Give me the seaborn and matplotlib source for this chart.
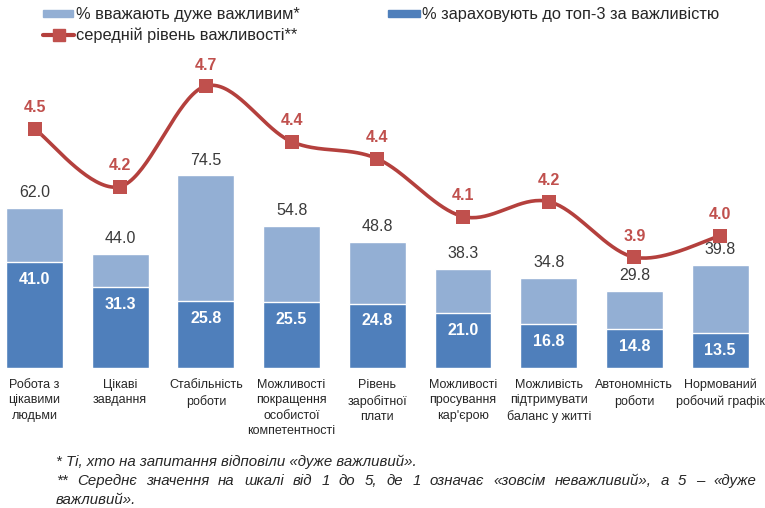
import numpy as np
import pandas as pd
import seaborn as sns
import matplotlib
matplotlib.use("Agg")
import matplotlib.pyplot as plt
from matplotlib.patches import Rectangle
from matplotlib.lines import Line2D
from matplotlib import font_manager

categories = [
    "Робота з\nцікавими\nлюдьми",
    "Цікаві\nзавдання",
    "Стабільність\nроботи",
    "Можливості\nпокращення\nособистої\nкомпетентності",
    "Рівень\nзаробітної\nплати",
    "Можливості\nпросування\nкар'єрою",
    "Можливість\nпідтримувати\nбаланс у житті",
    "Автономність\nроботи",
    "Нормований\nробочий графік",
]
very_important = [62.0, 44.0, 74.5, 54.8, 48.8, 38.3, 34.8, 29.8, 39.8]
top3 = [41.0, 31.3, 25.8, 25.5, 24.8, 21.0, 16.8, 14.8, 13.5]
mean_level = [4.50, 4.23, 4.70, 4.44, 4.36, 4.09, 4.16, 3.90, 4.00]

legend_labels = ["% вважають дуже важливим*",
                 "% зараховують до топ-3 за важливістю",
                 "середній рівень важливості**"]
footnote1 = "* Ті, хто на запитання відповіли «дуже важливий»."
footnote2 = "** Середнє значення на шкалі від 1 до 5, де 1 означає «зовсім неважливий», а 5 – «дуже"
footnote3 = "важливий»."

LIGHT = "#93afd4"
DARK = "#4f7fbb"
RED = "#c0504d"
RED_LINE = "#b4403d"

sns.set_theme(style="white")
names = {f.name for f in font_manager.fontManager.ttflist}
narrow = "Liberation Sans Narrow" if "Liberation Sans Narrow" in names else "Liberation Sans"
plt.rcParams["font.family"] = ["Liberation Sans", "DejaVu Sans"]

W, H = 765, 508
fig = plt.figure(figsize=(W / 100, H / 100), dpi=100)
fig.patch.set_facecolor("white")

# axes occupies pixel rows 60..367.5 and the full width
ax_top, ax_bot = 60, 367.5
ax = fig.add_axes([0, (H - ax_bot) / H, 1, (ax_bot - ax_top) / H])
ax.set_facecolor("none")

df = pd.DataFrame({"cat": categories, "vi": very_important, "t3": top3, "m": mean_level})

sns.barplot(data=df, x="cat", y="vi", color=LIGHT, saturation=1, width=0.665, ax=ax)
sns.barplot(data=df, x="cat", y="t3", color=DARK, saturation=1, width=0.665, ax=ax)

spacing = 85.7
x0 = -34.5 / spacing
ax.set_xlim(x0, x0 + W / spacing)
ax.set_ylim(0, (ax_bot - ax_top) / 2.58)
for s in ax.spines.values():
    s.set_visible(False)
ax.set_xlabel("")
ax.set_ylabel("")
ax.set_yticks([])
ax.tick_params(axis="x", length=0, pad=8)
ax.set_xticks(range(len(categories)))
ax.set_xticklabels(categories, fontsize=9, family=[narrow, "DejaVu Sans"],
                   color="#262626", linespacing=1.4, va="top")

for i, (v, t) in enumerate(zip(very_important, top3)):
    ax.annotate(f"{v:.1f}", (i, v), xytext=(0, 11), textcoords="offset points",
                ha="center", va="center", fontsize=11.5, color="#3a3a3a")
    ax.annotate(f"{t:.1f}", (i, t), xytext=(0, -12.5), textcoords="offset points",
                ha="center", va="center", fontsize=11.5, color="white", fontweight="bold")

# secondary axis for the mean importance line
ax2 = ax.twinx()
px_per_unit = 214.0
y_ref_px, y_ref_val = 86.0, 4.7
ax2.set_ylim(y_ref_val - (ax_bot - y_ref_px) / px_per_unit,
             y_ref_val + (y_ref_px - ax_top) / px_per_unit)
ax2.set_yticks([])
for s in ax2.spines.values():
    s.set_visible(False)

# smooth (Catmull-Rom) curve through the points
xs = np.arange(len(mean_level), dtype=float)
ys = np.array(mean_level)
px = np.concatenate([[xs[0]], xs, [xs[-1]]])
py = np.concatenate([[ys[0]], ys, [ys[-1]]])
cx, cy = [], []
t = np.linspace(0, 1, 40)
for k in range(1, len(px) - 2):
    p0, p1, p2, p3 = [np.array([px[j], py[j]]) for j in (k - 1, k, k + 1, k + 2)]
    m1 = (p2 - p0) / 2
    m2 = (p3 - p1) / 2
    h00 = 2 * t**3 - 3 * t**2 + 1
    h10 = t**3 - 2 * t**2 + t
    h01 = -2 * t**3 + 3 * t**2
    h11 = t**3 - t**2
    seg = (np.outer(h00, p1) + np.outer(h10, m1) + np.outer(h01, p2) + np.outer(h11, m2))
    cx.extend(seg[:, 0]); cy.extend(seg[:, 1])
ax2.plot(cx, cy, color=RED_LINE, lw=2.6, solid_capstyle="round", zorder=3)
sns.scatterplot(x=xs, y=ys, marker="s", s=95, color=RED, edgecolor=RED,
                linewidth=0, ax=ax2, zorder=4)
for i, m in enumerate(mean_level):
    ax2.annotate(f"{m:.1f}", (i, m), xytext=(0, 15), textcoords="offset points",
                 ha="center", va="center", fontsize=11.5, color=RED, fontweight="bold")

# legend
def fx(x):
    return x / W

def fy(y):
    return 1 - y / H

fig.add_artist(Rectangle((fx(43), fy(17)), fx(30), 7 / H, color=LIGHT,
                         transform=fig.transFigure))
fig.add_artist(Rectangle((fx(388), fy(17)), fx(32), 7 / H, color=DARK,
                         transform=fig.transFigure))
fig.add_artist(Line2D([fx(43), fx(74)], [fy(34.5), fy(34.5)], color=RED_LINE, lw=3,
                      transform=fig.transFigure))
fig.add_artist(Line2D([fx(58.5)], [fy(34.5)], marker="s", markersize=8, color=RED,
                      transform=fig.transFigure))
leg_kw = dict(fontsize=11.8, color="#262626", va="center")
fig.text(fx(76), fy(14), legend_labels[0], **leg_kw)
fig.text(fx(422), fy(14), legend_labels[1], **leg_kw)
fig.text(fx(76), fy(35), legend_labels[2], **leg_kw)

# footnotes
foot_kw = dict(fontsize=10.8, style="italic", color="#262626", va="center",
               family=[narrow, "DejaVu Sans"])
fig.text(fx(56), fy(462), footnote1, **foot_kw)

# justified second line between x=56 and x=756
renderer = fig.canvas.get_renderer()
words = footnote2.split(" ")
arts = [fig.text(0, fy(481), w, **foot_kw) for w in words]
widths = [a.get_window_extent(renderer).width for a in arts]
left, right = 56, 756
gap = (right - left - sum(widths)) / (len(words) - 1)
xpos = left
for a, w in zip(arts, widths):
    a.set_x(fx(xpos))
    xpos += w + gap
fig.text(fx(56), fy(500), footnote3, **foot_kw)

fig.savefig("out.png", dpi=100, facecolor="white")
